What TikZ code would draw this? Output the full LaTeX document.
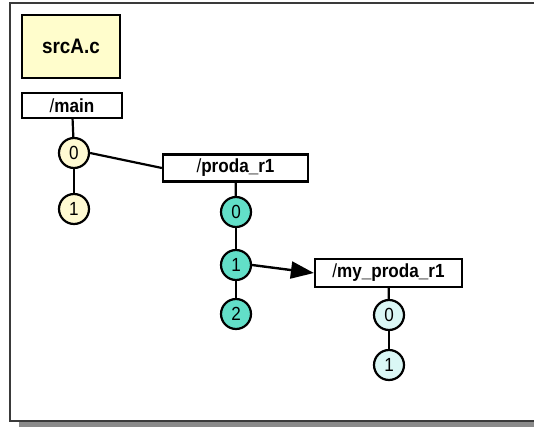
\documentclass[tikz,border=0pt]{standalone}
\usepackage{fontspec}
\setmainfont{Liberation Sans}
\newfontfamily\labelfont[FakeStretch=0.9]{Liberation Sans}
\usetikzlibrary{arrows.meta}
\definecolor{fileyellow}{HTML}{FFFDCC}
\definecolor{mainfill}{HTML}{FFFAD2}
\definecolor{prodafill}{HTML}{62DFC8}
\definecolor{myfill}{HTML}{DAF7F5}
\definecolor{framegray}{HTML}{3A3A3A}
\definecolor{shadowgray}{HTML}{8A8A8A}
\begin{document}
\begin{tikzpicture}[x=1pt,y=-1pt,
  funcbox/.style={draw=black, line width=2.2pt, fill=white, inner sep=0pt,
    font=\labelfont\fontsize{19}{22}\selectfont\bfseries},
  blockcirc/.style={circle, draw=black, line width=2.2pt, minimum size=30pt,
    inner sep=0pt, font=\labelfont\fontsize{19}{20}\selectfont},
  link/.style={draw=black, line width=2.2pt},
  callarrow/.style={draw=black, line width=2.4pt,
    -{Triangle[length=23pt,width=17pt]}}]
  \useasboundingbox (0,0) rectangle (534,427);
  % page frame and its shadow
  \fill[shadowgray] (19,421.5) rectangle (540,427);
  \draw[framegray, line width=1.6pt] (10,3) rectangle (540,421);

  % file label
  \node[draw=black, line width=2.4pt, fill=fileyellow, minimum width=98pt,
    minimum height=63pt, inner sep=0pt,
    font=\labelfont\fontsize{21}{22}\selectfont\bfseries]
    (src) at (71,46.5) {srcA.c};

  % function /main
  \node[funcbox, minimum width=100pt, minimum height=25pt] (mainf) at (72,105.5)
    {\mdseries/\bfseries main};
  \node[blockcirc, fill=mainfill] (m0) at (74,153) {0};
  \node[blockcirc, fill=mainfill] (m1) at (74,209) {1};

  % function /proda_r1
  \node[funcbox, minimum width=145pt, minimum height=27pt] (proda) at (235.5,168)
    {\mdseries/\bfseries proda\_r1};
  \node[blockcirc, fill=prodafill] (p0) at (236,212) {0};
  \node[blockcirc, fill=prodafill] (p1) at (236,265) {1};
  \node[blockcirc, fill=prodafill] (p2) at (236,314) {2};

  % function /my_proda_r1
  \node[funcbox, minimum width=147pt, minimum height=28pt] (myp) at (388.5,273)
    {\mdseries/\bfseries my\_proda\_r1};
  \node[blockcirc, fill=myfill] (y0) at (389,315) {0};
  \node[blockcirc, fill=myfill] (y1) at (389,365) {1};

  % block chains
  \draw[link] (mainf) -- (m0);
  \draw[link] (m0) -- (m1);
  \draw[link] (proda) -- (p0);
  \draw[link] (p0) -- (p1);
  \draw[link] (p1) -- (p2);
  \draw[link] (myp) -- (y0);
  \draw[link] (y0) -- (y1);

  % calls
  \draw[link] (m0.east) -- (proda.west);
  \draw[callarrow] (p1.east) -- (myp.west);
\end{tikzpicture}
\end{document}
